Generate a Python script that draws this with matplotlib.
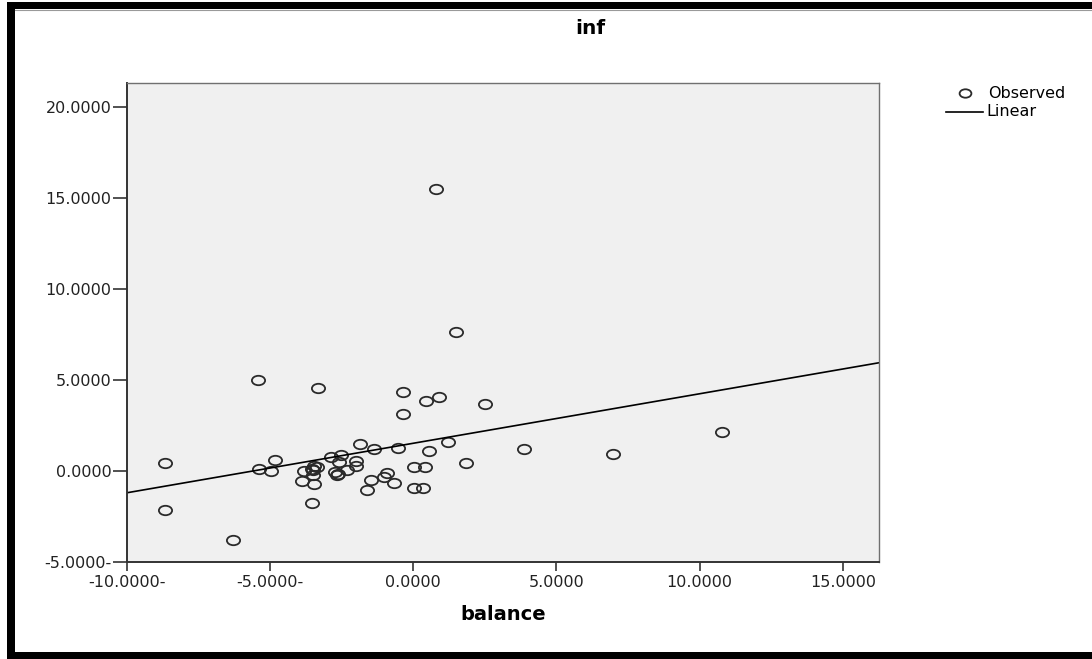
"""
散点图 + 线性拟合 (inf vs balance)，SPSS 风格。
"""

import numpy as np
import matplotlib
matplotlib.use("Agg")
import matplotlib.pyplot as plt
from matplotlib.lines import Line2D
from matplotlib.patches import Rectangle
from matplotlib.path import Path
from matplotlib.transforms import Affine2D

matplotlib.rcParams["font.family"] = ["DejaVu Sans"]

# ── 数据 ──
balance = [
    -8.66, -8.66, -6.30, -5.40, -5.37, -4.82, -4.95, -3.31, -3.88, -3.80,
    -3.54, -3.37, -3.45, -3.50, -3.48, -3.45, -3.54, -2.88, -2.53, -2.58,
    -2.73, -2.61, -2.67, -2.32, -1.99, -1.99, -1.84, -1.37, -1.62, -1.46,
    -1.02, -0.92, -0.67, -0.53, -0.34, -0.34, 0.02, 0.42, 0.02, 0.34,
    0.46, 0.90, 0.56, 0.79, 1.22, 1.50, 1.86, 2.51, 3.87, 6.99, 10.78,
]
inf = [
    0.44, -2.12, -3.79, 4.98, 0.09, 0.61, 0.00, 4.54, -0.53, 0.00,
    0.13, 0.22, 0.25, 0.05, -0.24, -0.69, -1.78, 0.78, 0.90, 0.49,
    -0.05, -0.14, -0.24, 0.03, 0.55, 0.26, 1.47, 1.19, -1.02, -0.47,
    -0.33, -0.09, -0.64, 1.25, 4.32, 3.12, 0.19, 0.19, -0.94, -0.94,
    3.84, 4.05, 1.09, 15.48, 1.58, 7.63, 0.43, 3.65, 1.19, 0.92, 2.13,
]

# 线性拟合系数
fit_intercept = 1.52
fit_slope = 0.272

x_ticks = [-10, -5, 0, 5, 10, 15]
x_tick_labels = ["-10.0000-", "-5.0000-", "0.0000", "5.0000", "10.0000", "15.0000"]
y_ticks = [-5, 0, 5, 10, 15, 20]
y_tick_labels = ["-5.0000-", "0.0000", "5.0000", "10.0000", "15.0000", "20.0000"]

W, H = 1092, 659
fig = plt.figure(figsize=(W / 100, H / 100), dpi=100)
fig.patch.set_facecolor("white")

# 原图被横向拉伸，圆圈呈椭圆
ellipse = Path.unit_circle().transformed(Affine2D().scale(1.4, 1.0))

# ── 外边框 ──
fig.patches.append(Rectangle((7 / W, 1 - 9 / H), 1, 7 / H, transform=fig.transFigure,
                             facecolor="black", edgecolor="none"))
fig.patches.append(Rectangle((7 / W, 0), 8 / W, 1 - 2 / H, transform=fig.transFigure,
                             facecolor="black", edgecolor="none"))
fig.patches.append(Rectangle((7 / W, 0), 1, 7 / H, transform=fig.transFigure,
                             facecolor="black", edgecolor="none"))
fig.lines.append(Line2D([15 / W, 1], [1 - 10 / H, 1 - 10 / H], transform=fig.transFigure,
                        color="#9a9a9a", lw=0.8))

# ── 坐标轴 ──
ax = fig.add_axes([126.7 / W, (H - 562) / H, (879 - 126.7) / W, (562 - 83.3) / H])
ax.set_facecolor("#f0f0f0")

ax.plot(balance, inf, linestyle="none", marker=ellipse, markersize=9.5,
        markerfacecolor="none", markeredgecolor="#2a2a2a", markeredgewidth=1.3)

x_line = np.array([-10, 16.26])
ax.plot(x_line, fit_intercept + fit_slope * x_line, color="black", lw=1.2)

ax.set_xlim(-10, 16.26)
ax.set_ylim(-5, 21.29)
ax.set_xticks(x_ticks)
ax.set_xticklabels(x_tick_labels, fontsize=11.5, color="#222222")
ax.set_yticks(y_ticks)
ax.set_yticklabels(y_tick_labels, fontsize=11.5, color="#222222")
ax.tick_params(axis="x", direction="out", length=6.5, width=1.2, pad=3, color="#333333")
ax.tick_params(axis="y", direction="out", length=10, width=1.2, pad=1, color="#333333")

for side in ["left", "bottom"]:
    ax.spines[side].set_color("#333333")
    ax.spines[side].set_linewidth(1.4)
for side in ["top", "right"]:
    ax.spines[side].set_color("#707070")
    ax.spines[side].set_linewidth(1.0)

# ── 标题 / 轴标题 ──
fig.text(590 / W, 1 - 29 / H, "inf", fontsize=14.5, fontweight="bold",
         ha="center", va="center")
fig.text(503 / W, 1 - 615 / H, "balance", fontsize=14, fontweight="bold",
         ha="center", va="center")

# ── 图例 ──
fig.lines.append(Line2D([965 / W], [1 - 93 / H], transform=fig.transFigure,
                        marker=ellipse, markersize=8.5, markerfacecolor="none",
                        markeredgecolor="#2a2a2a", markeredgewidth=1.3, linestyle="none"))
fig.text(988 / W, 1 - 94 / H, "Observed", fontsize=11.5, ha="left", va="center")
fig.lines.append(Line2D([946 / W, 983 / W], [1 - 112 / H, 1 - 112 / H],
                        transform=fig.transFigure, color="black", lw=1.2))
fig.text(986 / W, 1 - 112 / H, "Linear", fontsize=11.5, ha="left", va="center")

plt.savefig("out.png", dpi=100)
plt.close()
